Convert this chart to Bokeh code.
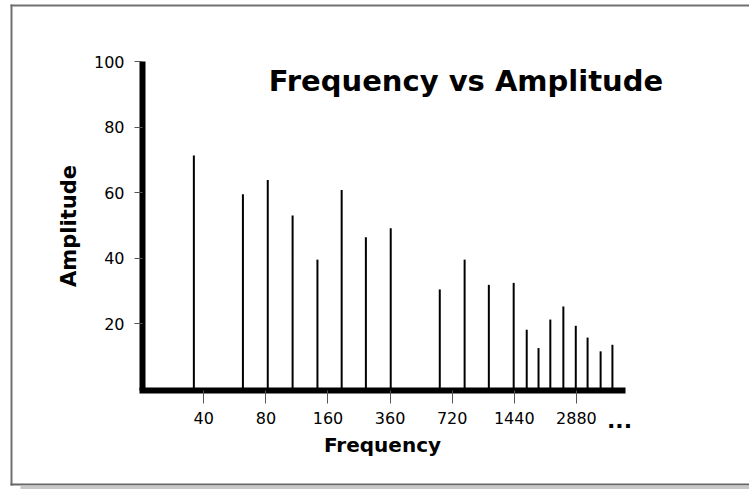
from bokeh.plotting import figure
from bokeh.models import FixedTicker, BoxAnnotation, Label, ColumnDataSource
from bokeh.embed import file_html
from bokeh.resources import INLINE

# ---- data ----
freq_labels = ["40", "80", "160", "360", "720", "1440", "2880"]
tick_pos = [1, 2, 3, 4, 5, 6, 7]
bar_pos = [0.84, 1.63, 2.03, 2.43, 2.83, 3.22, 3.61, 4.01, 4.80, 5.20,
           5.59, 5.99, 6.20, 6.39, 6.58, 6.79, 6.99, 7.18, 7.39, 7.58]
amplitude = [71.3, 59.5, 63.8, 53.0, 39.5, 60.8, 46.3, 49.1, 30.4, 39.5,
             31.8, 32.4, 18.1, 12.5, 21.2, 25.2, 19.3, 15.7, 11.5, 13.5]
y_ticks = [20, 40, 60, 80, 100]

src = ColumnDataSource(dict(x=bar_pos, amp=amplitude, base=[0] * len(bar_pos)))

# frame fills the whole canvas; axes are pinned at fixed locations
X0, X1 = -2.2737, 9.7874
Y0, Y1 = -30.687, 118.626
XAX_LO, XAX_HI = 0.0129, 7.742
YAX_LO, YAX_HI = -0.46, 100

p = figure(width=749, height=489, output_backend="svg", toolbar_location=None,
           x_range=(X0, X1), y_range=(Y0, Y1), min_border=0, title=None)
p.background_fill_color = "white"
p.border_fill_color = "white"
p.outline_line_color = None
p.xgrid.visible = False
p.ygrid.visible = False

FONT = "DejaVu Sans"

# x axis
xa = p.xaxis[0]
xa.fixed_location = YAX_LO
xa.bounds = (XAX_LO, XAX_HI)
xa.ticker = FixedTicker(ticks=tick_pos)
xa.major_label_overrides = {t: l for t, l in zip(tick_pos, freq_labels)}
xa.axis_line_width = 6
xa.axis_line_cap = "square"
xa.axis_line_color = "black"
xa.major_tick_out = 13
xa.major_tick_in = 0
xa.minor_tick_out = 0
xa.minor_tick_in = 0
xa.major_tick_line_color = "#555555"
xa.major_tick_line_width = 1
xa.major_label_text_font = FONT
xa.major_label_text_font_size = "16px"
xa.major_label_text_color = "black"
xa.major_label_standoff = 8
xa.axis_label = "Frequency"
xa.axis_label_text_font = FONT
xa.axis_label_text_font_size = "20px"
xa.axis_label_text_font_style = "bold"
xa.axis_label_text_color = "black"
xa.axis_label_standoff = 6

# y axis
ya = p.yaxis[0]
ya.fixed_location = XAX_LO
ya.bounds = (YAX_LO, YAX_HI)
ya.ticker = FixedTicker(ticks=y_ticks)
ya.axis_line_width = 6
ya.axis_line_color = "black"
ya.major_tick_out = 8
ya.major_tick_in = 0
ya.minor_tick_out = 0
ya.minor_tick_in = 0
ya.major_tick_line_color = "#555555"
ya.major_tick_line_width = 1
ya.major_label_text_font = FONT
ya.major_label_text_font_size = "16px"
ya.major_label_text_color = "black"
ya.major_label_standoff = 10
ya.axis_label = "Amplitude"
ya.axis_label_text_font = FONT
ya.axis_label_text_font_size = "21px"
ya.axis_label_text_font_style = "bold"
ya.axis_label_text_color = "black"
ya.axis_label_standoff = 10

# spectral lines
p.segment(x0="x", y0="base", x1="x", y1="amp", source=src,
          line_width=2, line_color="black")

# title inside the plot
p.add_layout(Label(x=5.222, y=93.9, text="Frequency vs Amplitude",
                   text_font=FONT, text_font_size="29px", text_font_style="bold",
                   text_align="center", text_baseline="alphabetic",
                   text_color="black"))

# continuation dots after the last frequency label
p.add_layout(Label(x=7.694, y=-9.4, text="...",
                   text_font=FONT, text_font_size="22px", text_font_style="bold",
                   text_align="center", text_baseline="alphabetic",
                   text_color="black"))

# outer frame (left, top, bottom edges) and its shadow
BL, BL2 = -2.1127, -2.0805
p.add_layout(BoxAnnotation(left=BL, right=BL2, top=117.40, bottom=-29.47,
                           fill_color="#707070", fill_alpha=1, line_color=None))
p.add_layout(BoxAnnotation(left=BL, right=20, top=117.40, bottom=116.79,
                           fill_color="#707070", fill_alpha=1, line_color=None))
p.add_layout(BoxAnnotation(left=BL, right=20, top=-28.85, bottom=-29.47,
                           fill_color="#666666", fill_alpha=1, line_color=None))
p.add_layout(BoxAnnotation(left=-1.9517, right=20, top=-29.47, bottom=-40,
                           fill_color="#c8c8c8", fill_alpha=1, line_color=None))

open("out.html", "w").write(file_html(p, INLINE))
